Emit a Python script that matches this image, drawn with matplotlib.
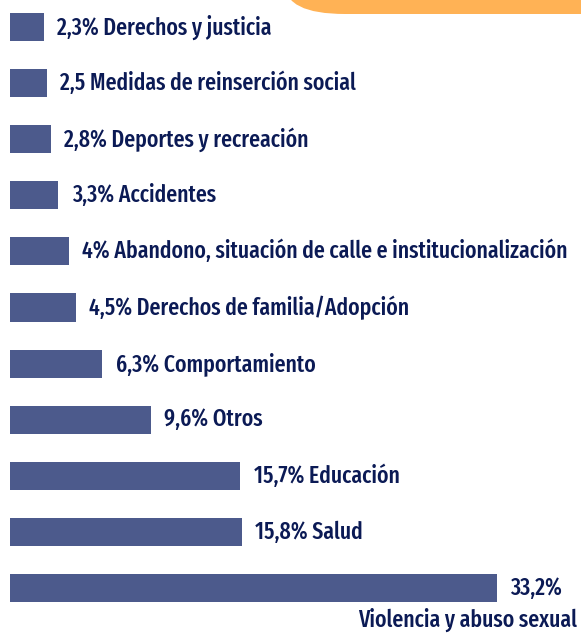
import matplotlib.pyplot as plt
from matplotlib.patches import FancyBboxPatch

# datos
valores = [2.3, 2.5, 2.8, 3.3, 4.0, 4.5, 6.3, 9.6, 15.7, 15.8, 33.2]
etiquetas = [
    "2,3% Derechos y justicia",
    "2,5 Medidas de reinserción social",
    "2,8% Deportes y recreación",
    "3,3% Accidentes",
    "4% Abandono, situación de calle e institucionalización",
    "4,5% Derechos de familia/Adopción",
    "6,3% Comportamiento",
    "9,6% Otros",
    "15,7% Educación",
    "15,8% Salud",
    "33,2%",
]
ultima_categoria = "Violencia y abuso sexual"

color_barra = "#4c5a8c"
color_texto = "#0b1a55"
fuente = ["Fira Sans Extra Condensed", "DejaVu Sans"]
tam = 17

fig = plt.figure(figsize=(5.81, 6.36), dpi=100)
ax = fig.add_axes([0, 0, 1, 1])

pos = list(range(len(valores)))
ax.barh(pos, valores, height=0.5, color=color_barra)

# etiqueta al lado de cada barra
for i, (v, t) in enumerate(zip(valores, etiquetas)):
    ax.annotate(t, (v, i), xytext=(9.5, 0), textcoords="offset points",
                va="center", ha="left", fontsize=tam, color=color_texto,
                family=fuente, weight=500)

# la ultima categoria va debajo, alineada a la derecha
ax.annotate(ultima_categoria, (1, pos[-1]), xycoords=("axes fraction", "data"),
            xytext=(-3, -23), textcoords="offset points",
            va="center", ha="right", fontsize=tam, color=color_texto,
            family=fuente, weight=500)

ax.set_xlim(-10 / 14.67, 571 / 14.67)
ax.set_ylim((636 - 27) / 56.1, -27 / 56.1)
ax.axis("off")

# forma naranja de la esquina
forma = FancyBboxPatch((285, 622), 400, 120,
                       boxstyle="round,pad=0,rounding_size=60",
                       mutation_aspect=0.5, transform=None,
                       facecolor="#ffb255", edgecolor="none")
fig.patches.append(forma)

fig.savefig("out.png", dpi=100)
